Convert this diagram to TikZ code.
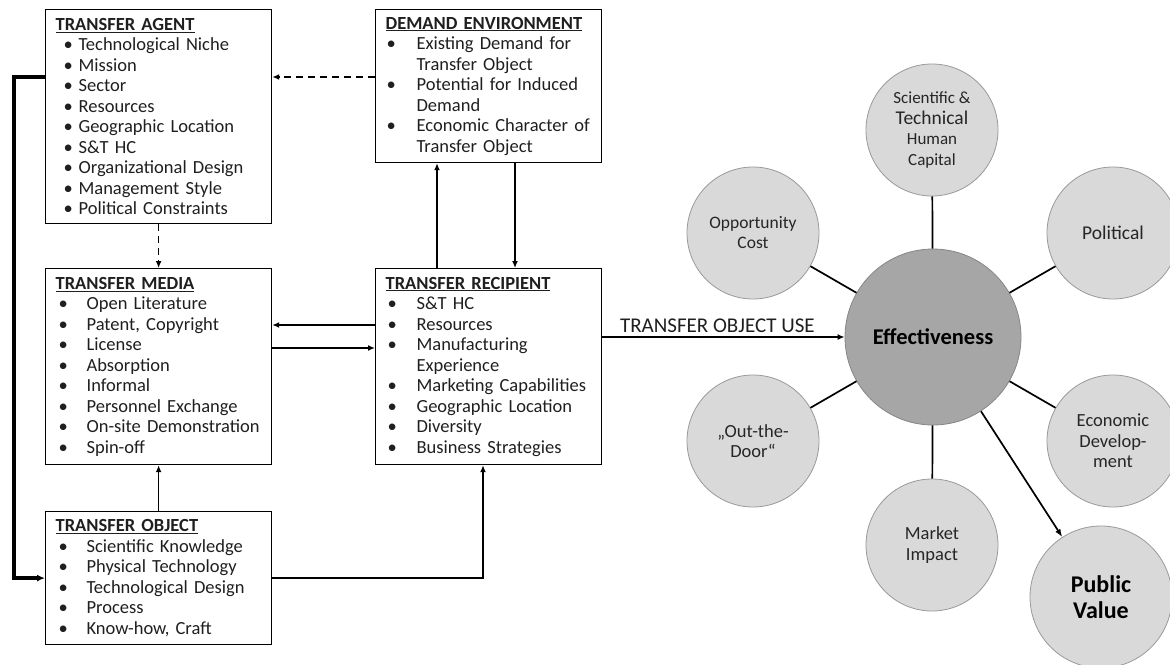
\documentclass[tikz,border=0pt]{standalone}
\usepackage{fontspec}
\setmainfont{Carlito}
\usetikzlibrary{arrows.meta,calc}
\newcommand\bl[3]{\hspace*{#1}\makebox[#2][l]{\textbullet}#3}
\newcommand\ttl[1]{\underline{\textbf{#1}}}
\begin{document}
\begin{tikzpicture}[x=1pt,y=-1pt,
  box/.style={draw=black, line width=1.2pt, anchor=north west, align=left,
    inner xsep=10pt, inner ysep=0pt, text=black!88,
    font=\fontsize{18.5}{20.5}\selectfont},
  conn/.style={line width=1.6pt, draw=black},
  tip/.style={-{Latex[length=7pt,width=6pt]}},
  loopline/.style={line width=3.4pt, draw=black},
  small/.style={circle, draw=gray!80, fill=gray!30, line width=0.8pt,
    minimum size=132pt, inner sep=0pt, align=center, text=black!85,
    font=\fontsize{18.5}{20.5}\selectfont},
  big/.style={circle, draw=gray!95, fill=gray!70, line width=0.8pt,
    minimum size=176pt, inner sep=0pt, align=center, text=black,
    font=\fontsize{22.5}{25}\selectfont\bfseries},
  spoke/.style={line width=1.7pt, draw=black}
]
\useasboundingbox (0,0) rectangle (1170,664);

% boxes
\node[box, text width=206pt, minimum height=214pt] (agent) at (45,9) {%
\ttl{TRANSFER AGENT}\\
\bl{8pt}{15pt}{Technological Niche}\\
\bl{8pt}{15pt}{Mission}\\
\bl{8pt}{15pt}{Sector}\\
\bl{8pt}{15pt}{Resources}\\
\bl{8pt}{15pt}{Geographic Location}\\
\bl{8pt}{15pt}{S\&T HC}\\
\bl{8pt}{15pt}{Organizational Design}\\
\bl{8pt}{15pt}{Management Style}\\
\bl{8pt}{15pt}{Political Constraints}};

\node[box, inner xsep=10pt, text width=206pt, minimum height=153pt] (demand) at (375,9) {%
\ttl{DEMAND ENVIRONMENT}\\
\bl{1pt}{30pt}{Existing Demand for}\\
\hspace*{31pt}Transfer Object\\
\bl{1pt}{30pt}{Potential for Induced}\\
\hspace*{31pt}Demand\\
\bl{1pt}{30pt}{Economic Character of}\\
\hspace*{31pt}Transfer Object};

\node[box, text width=206pt, minimum height=196pt] (media) at (45,268) {%
\ttl{TRANSFER MEDIA}\\
\bl{3pt}{28pt}{Open Literature}\\
\bl{3pt}{28pt}{Patent, Copyright}\\
\bl{3pt}{28pt}{License}\\
\bl{3pt}{28pt}{Absorption}\\
\bl{3pt}{28pt}{Informal}\\
\bl{3pt}{28pt}{Personnel Exchange}\\
\bl{3pt}{28pt}{On-site Demonstration}\\
\bl{3pt}{28pt}{Spin-off}};

\node[box, inner xsep=10pt, text width=206pt, minimum height=196pt] (rec) at (375,268) {%
\ttl{TRANSFER RECIPIENT}\\
\bl{2pt}{29pt}{S\&T HC}\\
\bl{2pt}{29pt}{Resources}\\
\bl{2pt}{29pt}{Manufacturing}\\
\hspace*{31pt}Experience\\
\bl{2pt}{29pt}{Marketing Capabilities}\\
\bl{2pt}{29pt}{Geographic Location}\\
\bl{2pt}{29pt}{Diversity}\\
\bl{2pt}{29pt}{Business Strategies}};

\node[box, text width=206pt, minimum height=133pt] (obj) at (45,511) {%
\ttl{TRANSFER OBJECT}\\
\bl{3pt}{28pt}{Scientific Knowledge}\\
\bl{3pt}{28pt}{Physical Technology}\\
\bl{3pt}{28pt}{Technological Design}\\
\bl{3pt}{28pt}{Process}\\
\bl{3pt}{28pt}{Know-how, Craft}};

% circles
\node[big] (eff) at (933,337) {Effectiveness};
\node[small] (sci) at (932,130) {{\fontsize{17}{20}\selectfont Scientific \&}\\{\fontsize{19.5}{20}\selectfont Technical}\\{\fontsize{17}{20}\selectfont Human}\\{\fontsize{17}{20}\selectfont Capital}};
\node[small, font=\fontsize{17.5}{20}\selectfont] (opp) at (753,233) {Opportunity\\Cost};
\node[small, font=\fontsize{19.5}{20}\selectfont] (pol) at (1113,233) {Political};
\node[small] (door) at (753,441) {„Out-the-\\Door“};
\node[small] (econ) at (1113,441) {Economic\\Develop-\\ment};
\node[small] (mkt) at (932,545) {Market\\Impact};
\node[small, minimum size=142pt, font=\fontsize{24}{26}\selectfont\bfseries, text=black] (pv) at (1101,597) {Public\\Value};

% helper coordinates
\coordinate (ya) at (0,77);
\coordinate (ym1) at (0,325);
\coordinate (ym2) at (0,348);
\coordinate (xu) at (437,0);
\coordinate (xd) at (515,0);
\coordinate (xr) at (483,0);
\coordinate (lx) at (14,0);

% connectors
\draw[conn, tip, dashed, dash pattern=on 7pt off 5pt] (demand.west |- ya) -- (agent.east |- ya);
\draw[conn, tip, dashed, dash pattern=on 7pt off 5pt] (agent.south) -- (media.north);
\draw[conn, tip] (rec.west |- ym1) -- (media.east |- ym1);
\draw[conn, tip] (media.east |- ym2) -- (rec.west |- ym2);
\draw[conn, tip] (rec.north -| xu) -- (demand.south -| xu);
\draw[conn, tip] (demand.south -| xd) -- (rec.north -| xd);
\draw[conn, tip] (obj.north) -- (media.south);
\draw[conn, line width=2.2pt, tip] (obj.east) -| (rec.south -| xr);
\draw[loopline, -{Latex[length=8pt,width=7pt]}] (agent.west |- ya) -| (lx |- obj.west) -- (obj.west);
\draw[conn, tip] (rec.east |- eff.west) -- node[above, xshift=-6pt, yshift=0pt, font=\fontsize{21}{24}\selectfont, text=black!88] {TRANSFER OBJECT USE} (eff.west);

% spokes
\draw[spoke] (eff) -- (sci);
\draw[spoke] (eff) -- (opp);
\draw[spoke] (eff) -- (pol);
\draw[spoke] (eff) -- (door);
\draw[spoke] (eff) -- (econ);
\draw[spoke] (eff) -- (mkt);
\draw[spoke, -{Latex[length=8pt,width=6pt]}] (eff) -- (pv);
\end{tikzpicture}
\end{document}
